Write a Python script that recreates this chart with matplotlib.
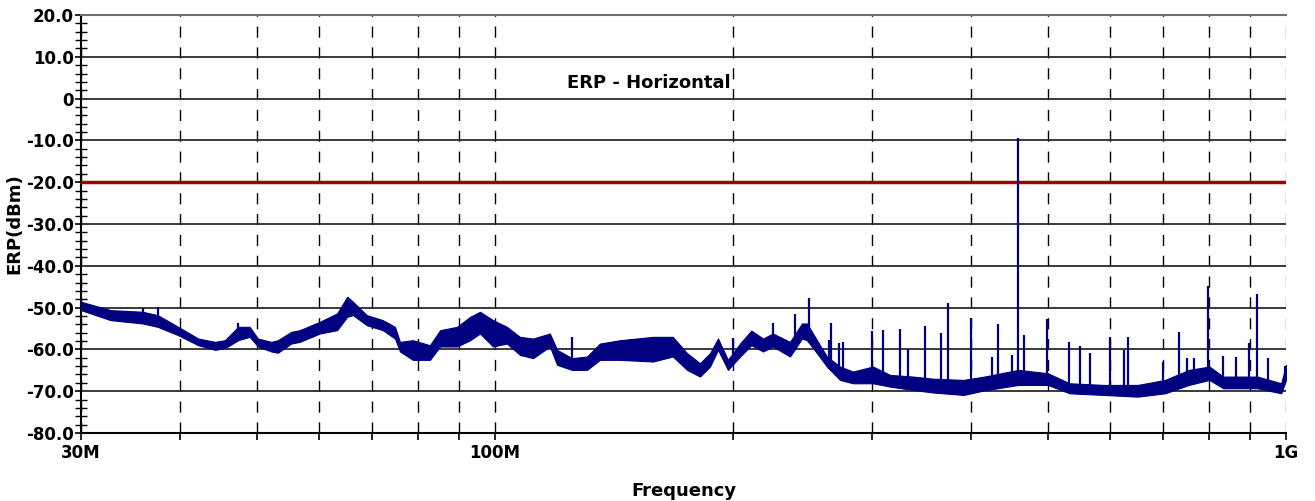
import numpy as np
import matplotlib
matplotlib.use('Agg')
import matplotlib.pyplot as plt

plt.rcParams['font.family'] = ['DejaVu Sans']
plt.rcParams['font.weight'] = 'bold'

# noise floor envelope (MHz, lower dB, upper dB)
freq_mhz = [30.0, 32.7, 35.9, 37.5, 39.8, 42.2, 44.3, 45.6, 47.4, 49.0,
            50.2, 52.2, 53.2, 55.3, 56.7, 60.1, 63.2, 65.1, 66.2, 68.9,
            72.2, 74.8, 75.9, 78.8, 82.8, 85.3, 89.6, 93.1, 95.8, 99.5,
            103.6, 107.6, 111.8, 117.4, 119.9, 125.2, 130.8, 135.8, 144.0, 158.5,
            167.9, 175.0, 181.7, 187.1, 191.5, 197.1, 204.2, 211.0, 218.3, 224.7,
            236.1, 244.5, 248.1, 255.4, 262.9, 273.1, 283.6, 300.6, 315.9, 337.7,
            357.9, 391.4, 415.6, 459.0, 500.0, 532.7, 588.3, 649.7, 703.5, 753.9,
            800.0, 833.1, 920.0, 986.1, 1000.0]
level_lo = [-50.6, -53.0, -53.8, -54.6, -56.6, -59.0, -60.1, -59.7, -57.8, -57.0,
            -59.3, -60.5, -60.8, -58.6, -58.2, -56.2, -55.4, -52.2, -51.8, -54.2,
            -55.4, -57.4, -60.5, -62.5, -62.5, -59.3, -59.3, -57.8, -56.2, -59.3,
            -58.6, -61.3, -62.1, -59.3, -63.7, -64.9, -64.9, -62.5, -62.5, -62.9,
            -61.7, -64.9, -66.5, -64.1, -60.1, -64.9, -61.7, -59.0, -60.5, -59.3,
            -61.7, -57.4, -57.8, -60.9, -64.1, -67.3, -68.1, -68.1, -68.9, -69.7,
            -70.3, -70.9, -69.8, -68.5, -68.5, -70.5, -70.9, -71.3, -70.5, -68.5,
            -67.3, -69.3, -69.3, -70.5, -67.3]
level_hi = [-48.6, -50.6, -51.0, -51.8, -54.6, -57.4, -58.2, -57.8, -54.6, -54.6,
            -57.4, -58.2, -57.8, -55.8, -55.4, -53.4, -51.4, -47.4, -48.6, -51.8,
            -53.0, -54.6, -58.2, -57.8, -59.0, -55.4, -54.6, -52.2, -51.0, -53.0,
            -54.6, -57.0, -57.4, -56.2, -60.1, -62.1, -61.7, -58.6, -57.8, -57.0,
            -57.0, -60.9, -63.3, -60.9, -57.4, -62.5, -58.6, -55.5, -57.4, -56.2,
            -58.2, -53.8, -53.8, -57.8, -61.7, -64.1, -65.3, -64.1, -66.1, -66.5,
            -67.0, -67.3, -66.5, -64.9, -65.7, -68.1, -68.5, -68.5, -67.3, -64.9,
            -64.1, -66.5, -66.5, -68.1, -63.7]

# narrow-band spikes (MHz, peak dB)
spike_mhz = [35.9, 37.5, 47.4, 125.2, 200.0, 224.7, 239.8, 249.5, 264.5, 266.4,
             272.1, 275.2, 300.0, 309.1, 324.8, 333.1, 349.8, 366.0, 374.5, 399.4,
             424.7, 432.3, 449.9, 459.0, 466.3, 498.7, 532.2, 549.3, 565.3, 599.5,
             624.5, 631.3, 700.0, 733.0, 749.8, 764.1, 797.4, 831.4, 864.3, 898.5,
             919.1, 948.7, 996.9]
spike_db = [-50.2, -49.9, -53.8, -57.0, -57.3, -53.7, -51.6, -47.8, -57.8, -53.7,
            -58.5, -58.2, -55.6, -55.4, -55.2, -59.8, -54.4, -56.1, -48.8, -52.4,
            -61.8, -53.9, -61.3, -9.5, -56.6, -52.8, -58.2, -59.2, -60.9, -57.1,
            -60.2, -57.1, -63.0, -55.8, -62.0, -62.0, -44.8, -61.5, -61.8, -58.4,
            -46.7, -62.0, -64.0]

limit_db = -20.0
minor_mhz = [40, 50, 60, 70, 80, 90, 200, 300, 400, 500, 600, 700, 800, 900]
y_ticks = [20, 10, 0, -10, -20, -30, -40, -50, -60, -70, -80]
y_labels = ['20.0', '10.0', '0', '-10.0', '-20.0', '-30.0', '-40.0',
            '-50.0', '-60.0', '-70.0', '-80.0']

navy = '#000080'

fig = plt.figure(figsize=(13.15, 5.01), dpi=100)
ax = fig.add_axes([81/1315, 1-433/501, 1205/1315, 418/501])
ax.set_xscale('log')
ax.set_xlim(30, 1000)
ax.set_ylim(-80, 20)

ax.set_xticks([30, 100, 1000])
ax.set_xticklabels(['30M', '100M', '1G'])
ax.set_xticks(minor_mhz, minor=True)
ax.set_xticklabels([], minor=True)
ax.set_yticks(y_ticks)
ax.set_yticklabels(y_labels)
ax.set_yticks(np.arange(-80, 21, 2), minor=True)

ax.tick_params(axis='both', which='major', labelsize=12, width=1.2, color='black')
ax.tick_params(axis='y', which='major', direction='out', length=4, pad=1)
ax.tick_params(axis='y', which='minor', direction='inout', length=8, width=1)
ax.tick_params(axis='x', which='both', direction='out', length=5, width=1.2)
ax.tick_params(axis='x', which='major', pad=3)

ax.grid(axis='y', which='major', color='#2a2a2a', lw=1.3, ls='-')
ax.grid(axis='x', which='both', color='black', lw=1.0, ls=(0, (8, 7)))
ax.set_axisbelow(True)

for s in ['left', 'bottom']:
    ax.spines[s].set_linewidth(1.5)
ax.spines['top'].set_color('#707070')
ax.spines['top'].set_linewidth(1.5)
ax.spines['right'].set_visible(False)
ax.xaxis.get_gridlines()[-1].set_color('#707070')

ax.axhline(limit_db, color='#a00000', lw=2.5, zorder=3)

ax.fill_between(freq_mhz, level_lo, level_hi, color=navy, lw=0.8, zorder=4)
base = np.interp(np.log10(spike_mhz), np.log10(freq_mhz), level_lo)
ax.vlines(spike_mhz, base, spike_db, color=navy, lw=1.6, zorder=4)

fig.text(567/1315, 1-83/501, 'ERP - Horizontal', fontsize=13, fontweight='bold',
         va='center', ha='left')
ax.set_xlabel('Frequency', fontsize=13, fontweight='bold', labelpad=14)
ax.set_ylabel('ERP(dBm)', fontsize=13, fontweight='bold', labelpad=2)

fig.savefig('out.png', dpi=100)
